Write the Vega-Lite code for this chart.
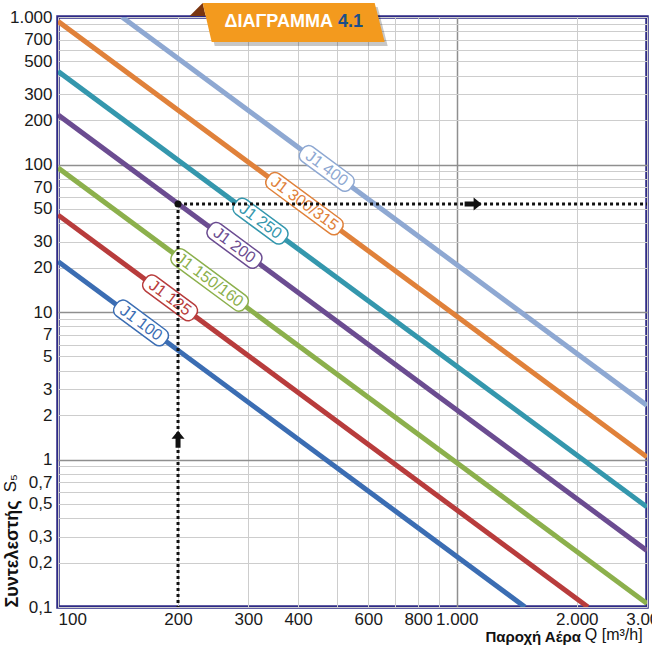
{
  "$schema": "https://vega.github.io/schema/vega-lite/v6.json",
  "width": 589,
  "height": 590,
  "autosize": {"type": "none"},
  "padding": {"left": 58, "top": 17, "right": 5, "bottom": 45},
  "background": "white",
  "datasets": {
    "lines": [
      {"series": "J1 100", "Q": 100, "S": 22},
      {"series": "J1 100", "Q": 1483, "S": 0.1},
      {"series": "J1 125", "Q": 100, "S": 45.5},
      {"series": "J1 125", "Q": 2133, "S": 0.1},
      {"series": "J1 150/160", "Q": 100, "S": 95},
      {"series": "J1 150/160", "Q": 3000, "S": 0.1056},
      {"series": "J1 200", "Q": 100, "S": 217},
      {"series": "J1 200", "Q": 3000, "S": 0.241},
      {"series": "J1 250", "Q": 100, "S": 428},
      {"series": "J1 250", "Q": 3000, "S": 0.476},
      {"series": "J1 300/315", "Q": 100, "S": 935},
      {"series": "J1 300/315", "Q": 3000, "S": 1.039},
      {"series": "J1 400", "Q": 144.7, "S": 1000},
      {"series": "J1 400", "Q": 3000, "S": 2.327}
    ],
    "labels": [
      {"series": "J1 100", "Q": 161.5, "S": 8.43},
      {"series": "J1 125", "Q": 191, "S": 12.47},
      {"series": "J1 150/160", "Q": 240, "S": 16.5},
      {"series": "J1 200", "Q": 277, "S": 28.3},
      {"series": "J1 250", "Q": 322, "S": 41.3},
      {"series": "J1 300/315", "Q": 415, "S": 54.3},
      {"series": "J1 400", "Q": 472, "S": 94}
    ],
    "ref": [{"Q": 200, "S": 54}]
  },
  "layer": [
    {
      "data": {"name": "lines"},
      "mark": {"type": "line", "strokeWidth": 5, "clip": true, "strokeCap": "butt"},
      "encoding": {
        "x": {
          "field": "Q", "type": "quantitative",
          "scale": {"type": "log", "domain": [100, 3000], "nice": false},
          "axis": {
            "values": [100, 200, 300, 400, 500, 600, 700, 800, 900, 1000, 2000, 3000],
            "labelExpr": "indexof([100,200,300,400,600,800], datum.value) >= 0 ? format(datum.value,'d') : (indexof([1000,2000,3000], datum.value) >= 0 ? format(datum.value/1000,'d') + '.000' : '')",
            "grid": true,
            "gridColor": {"condition": {"test": "datum.value == 1000", "value": "#8f8f8f"}, "value": "#cdcdcd"},
            "gridWidth": {"condition": {"test": "datum.value == 1000", "value": 1.5}, "value": 1},
            "domain": false,
            "ticks": false,
            "labelOverlap": false,
            "labelFontSize": 17,
            "labelColor": "#1a1a1a",
            "labelPadding": 4,
            "labelAlign": {"condition": {"test": "datum.value == 100", "value": "left"}, "value": "center"},
            "title": "Παροχή Αέρα",
            "titleFontSize": 15,
            "titleFontWeight": "bold",
            "titleColor": "#111111",
            "titleX": 427,
            "titleY": 34,
            "titleAlign": "left",
            "titleBaseline": "alphabetic"
          }
        },
        "y": {
          "field": "S", "type": "quantitative",
          "scale": {"type": "log", "domain": [0.1, 1000], "nice": false},
          "axis": {
            "values": [0.1, 0.2, 0.3, 0.4, 0.5, 0.6, 0.7, 0.8, 0.9, 1, 2, 3, 4, 5, 6, 7, 8, 9, 10, 20, 30, 40, 50, 60, 70, 80, 90, 100, 200, 300, 400, 500, 600, 700, 800, 900, 1000],
            "labelExpr": "indexof([0.1,0.2,0.3,0.5,0.7,1,2,3,5,7,10,20,30,50,70,100,200,300,500,700], datum.value) >= 0 ? (datum.value < 1 ? '0,' + format(datum.value*10, '.0f') : format(datum.value, 'd')) : (datum.value == 1000 ? '1.000' : '')",
            "grid": true,
            "gridColor": {"condition": {"test": "datum.value == 1 || datum.value == 10 || datum.value == 100", "value": "#8f8f8f"}, "value": "#cdcdcd"},
            "gridWidth": {"condition": {"test": "datum.value == 1 || datum.value == 10 || datum.value == 100", "value": 1.5}, "value": 1},
            "domain": false,
            "ticks": false,
            "labelOverlap": false,
            "labelFontSize": 17,
            "labelColor": "#1a1a1a",
            "labelPadding": 6,
            "labelAlign": "right",
            "labelBaseline": "middle",
            "title": "Συντελεστής",
            "titleFontSize": 18,
            "titleFontWeight": "bold",
            "titleColor": "#111111",
            "titleX": -46,
            "titleY": 590,
            "titleAngle": 270,
            "titleAlign": "left",
            "titleBaseline": "middle"
          }
        },
        "color": {
          "field": "series", "type": "nominal", "legend": null,
          "scale": {
            "domain": ["J1 100", "J1 125", "J1 150/160", "J1 200", "J1 250", "J1 300/315", "J1 400"],
            "range": ["#3b6db3", "#b83c3c", "#8cb04c", "#6b4c91", "#3497ad", "#e0813a", "#8ea8d2"]
          }
        },
        "detail": {"field": "series"}
      }
    },
    {
      "data": {"name": "labels"},
      "mark": {"type": "point", "filled": true, "fill": "white", "size": 4, "angle": 36.5, "strokeWidth": 1.5, "opacity": 1},
      "encoding": {
        "x": {"field": "Q", "type": "quantitative"},
        "y": {"field": "S", "type": "quantitative"},
        "shape": {
          "field": "series", "type": "nominal", "legend": null,
          "scale": {
            "domain": ["J1 100", "J1 125", "J1 150/160", "J1 200", "J1 250", "J1 300/315", "J1 400"],
            "range": [
              "M -24 -9 H 24 A 7 7 0 0 1 31 -2 V 2 A 7 7 0 0 1 24 9 H -24 A 7 7 0 0 1 -31 2 V -2 A 7 7 0 0 1 -24 -9 Z",
              "M -24 -9 H 24 A 7 7 0 0 1 31 -2 V 2 A 7 7 0 0 1 24 9 H -24 A 7 7 0 0 1 -31 2 V -2 A 7 7 0 0 1 -24 -9 Z",
              "M -38 -9 H 38 A 7 7 0 0 1 45 -2 V 2 A 7 7 0 0 1 38 9 H -38 A 7 7 0 0 1 -45 2 V -2 A 7 7 0 0 1 -38 -9 Z",
              "M -24 -9 H 24 A 7 7 0 0 1 31 -2 V 2 A 7 7 0 0 1 24 9 H -24 A 7 7 0 0 1 -31 2 V -2 A 7 7 0 0 1 -24 -9 Z",
              "M -24 -9 H 24 A 7 7 0 0 1 31 -2 V 2 A 7 7 0 0 1 24 9 H -24 A 7 7 0 0 1 -31 2 V -2 A 7 7 0 0 1 -24 -9 Z",
              "M -38 -9 H 38 A 7 7 0 0 1 45 -2 V 2 A 7 7 0 0 1 38 9 H -38 A 7 7 0 0 1 -45 2 V -2 A 7 7 0 0 1 -38 -9 Z",
              "M -24 -9 H 24 A 7 7 0 0 1 31 -2 V 2 A 7 7 0 0 1 24 9 H -24 A 7 7 0 0 1 -31 2 V -2 A 7 7 0 0 1 -24 -9 Z"
            ]
          }
        },
        "stroke": {
          "field": "series", "type": "nominal", "legend": null,
          "scale": {
            "domain": ["J1 100", "J1 125", "J1 150/160", "J1 200", "J1 250", "J1 300/315", "J1 400"],
            "range": ["#3b6db3", "#b83c3c", "#8cb04c", "#6b4c91", "#3497ad", "#e0813a", "#8ea8d2"]
          }
        }
      }
    },
    {
      "data": {"name": "labels"},
      "mark": {"type": "text", "angle": 36.5, "fontSize": 16, "align": "center", "baseline": "middle"},
      "encoding": {
        "x": {"field": "Q", "type": "quantitative"},
        "y": {"field": "S", "type": "quantitative"},
        "text": {"field": "series"},
        "color": {"field": "series", "type": "nominal", "legend": null}
      }
    },
    {
      "data": {"name": "ref"},
      "mark": {"type": "rule", "strokeWidth": 3, "strokeDash": [3, 3], "color": "#111111"},
      "encoding": {
        "x": {"field": "Q", "type": "quantitative"},
        "y": {"field": "S", "type": "quantitative"},
        "y2": {"datum": 0.1}
      }
    },
    {
      "data": {"name": "ref"},
      "mark": {"type": "rule", "strokeWidth": 3, "strokeDash": [3, 3], "color": "#111111"},
      "encoding": {
        "x": {"field": "Q", "type": "quantitative"},
        "x2": {"datum": 3000},
        "y": {"field": "S", "type": "quantitative"}
      }
    },
    {
      "data": {"name": "ref"},
      "mark": {"type": "point", "filled": true, "color": "#111111", "size": 50, "opacity": 1},
      "encoding": {
        "x": {"field": "Q", "type": "quantitative"},
        "y": {"field": "S", "type": "quantitative"}
      }
    },
    {
      "data": {"values": [{}]},
      "mark": {"type": "point", "filled": true, "color": "#111111", "size": 4, "opacity": 1, "shape": "M 0 -9 L 6.5 -1 L 2.5 -1 L 2.5 8 L -2.5 8 L -2.5 -1 L -6.5 -1 Z"},
      "encoding": {"x": {"datum": 200}, "y": {"datum": 1.36}}
    },
    {
      "data": {"values": [{}]},
      "mark": {"type": "point", "filled": true, "color": "#111111", "size": 4, "opacity": 1, "angle": 90, "shape": "M 0 -9 L 6.5 -1 L 2.5 -1 L 2.5 8 L -2.5 8 L -2.5 -1 L -6.5 -1 Z"},
      "encoding": {"x": {"datum": 1096}, "y": {"datum": 54}}
    },
    {
      "data": {"values": [{}]},
      "mark": {"type": "point", "filled": true, "color": "#000000", "size": 4, "opacity": 0.22, "shape": "M -88 -15 L 84 -15 L 94 24 L -79 24 Z"},
      "encoding": {"x": {"datum": 390}, "y": {"datum": 925}}
    },
    {
      "data": {"values": [{}]},
      "mark": {"type": "point", "filled": true, "color": "#7a3510", "size": 4, "opacity": 1, "shape": "M -104 -6 L -91 -19 L -88 -6 Z"},
      "encoding": {"x": {"datum": 390}, "y": {"datum": 925}}
    },
    {
      "data": {"values": [{}]},
      "mark": {"type": "point", "filled": true, "color": "#f39a1e", "size": 4, "opacity": 1, "shape": "M -91 -19 L 81 -19 L 91 20 L -82 20 Z"},
      "encoding": {"x": {"datum": 390}, "y": {"datum": 925}}
    },
    {
      "data": {"values": [{}]},
      "mark": {"type": "text", "text": "ΔΙΑΓΡΑΜΜΑ", "fontSize": 18, "fontWeight": "bold", "color": "white", "align": "right", "baseline": "middle", "dx": -2},
      "encoding": {"x": {"datum": 495}, "y": {"datum": 925}}
    },
    {
      "data": {"values": [{}]},
      "mark": {"type": "text", "text": "4.1", "fontSize": 18, "fontWeight": "bold", "color": "#1b4f8a", "align": "left", "baseline": "middle", "dx": 3},
      "encoding": {"x": {"datum": 495}, "y": {"datum": 925}}
    },
    {
      "data": {"values": [{}]},
      "mark": {"type": "text", "text": "Q [m³/h]", "fontSize": 16, "color": "#111111", "align": "left", "baseline": "alphabetic"},
      "encoding": {"x": {"datum": 2095}, "y": {"datum": 0.0597}}
    },
    {
      "data": {"values": [{}]},
      "mark": {"type": "text", "text": "S₅", "fontSize": 17, "color": "#111111", "align": "left", "baseline": "middle", "angle": 270},
      "encoding": {"x": {"datum": 76.2}, "y": {"datum": 0.6}}
    }
  ],
  "config": {
    "font": "Liberation Sans",
    "view": {"stroke": "#2e2a85", "strokeWidth": 3.5}
  }
}
